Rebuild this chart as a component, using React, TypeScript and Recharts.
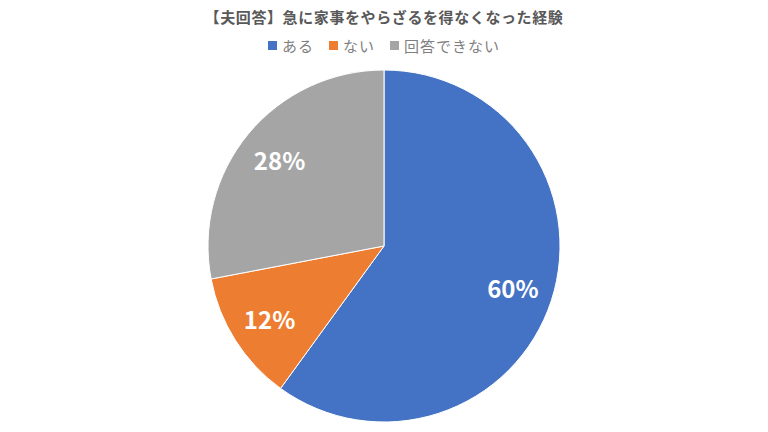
import React from "react";
import { PieChart, Pie, Cell } from "recharts";

const categories = ["ある", "ない", "回答できない"];
const values = [60, 12, 28];
const colors = ["#4472C4", "#ED7D31", "#A5A5A5"];
const title = "【夫回答】急に家事をやらざるを得なくなった経験";

const data = categories.map((name, i) => ({ name, value: values[i] }));

const FONT = "'Noto Sans CJK JP', 'Noto Sans', sans-serif";
const RAD = Math.PI / 180;

const renderLabel = (props: any) => {
  const { cx, cy, midAngle, outerRadius, value } = props;
  const r = outerRadius * 0.77;
  const x = cx + r * Math.cos(-midAngle * RAD);
  const y = cy + r * Math.sin(-midAngle * RAD);
  return (
    <text
      x={x}
      y={y}
      fill="#ffffff"
      textAnchor="middle"
      dominantBaseline="central"
      fontFamily={FONT}
      fontSize={24}
      fontWeight={700}
    >
      {`${value}%`}
    </text>
  );
};

export default function App() {
  return (
    <div style={{ position: "absolute", left: 0, top: 0, width: 768, height: 432, background: "#fff" }}>
      <div
        style={{
          position: "absolute",
          left: 0,
          top: 6,
          width: 768,
          textAlign: "center",
          fontFamily: FONT,
          fontSize: 15,
          fontWeight: 700,
          color: "#595959",
          letterSpacing: 0.6,
        }}
      >
        {title}
      </div>
      <div
        style={{
          position: "absolute",
          left: 0,
          top: 35,
          width: 768,
          display: "flex",
          justifyContent: "center",
          alignItems: "center",
          fontFamily: FONT,
          fontSize: 15,
          color: "#7f7f7f",
          gap: 15,
          letterSpacing: 1,
        }}
      >
        {categories.map((c, i) => (
          <div key={c} style={{ display: "flex", alignItems: "center", gap: 5 }}>
            <span style={{ display: "inline-block", width: 9, height: 9, background: colors[i] }} />
            <span>{c}</span>
          </div>
        ))}
      </div>
      <PieChart width={768} height={432} margin={{ top: 0, right: 0, bottom: 0, left: 0 }}>
        <Pie
          data={data}
          dataKey="value"
          nameKey="name"
          cx={384}
          cy={246}
          outerRadius={176}
          startAngle={90}
          endAngle={-270}
          stroke="#ffffff"
          strokeWidth={1}
          label={renderLabel}
          labelLine={false}
          isAnimationActive={false}
        >
          {data.map((d, i) => (
            <Cell key={d.name} fill={colors[i]} />
          ))}
        </Pie>
      </PieChart>
    </div>
  );
}
